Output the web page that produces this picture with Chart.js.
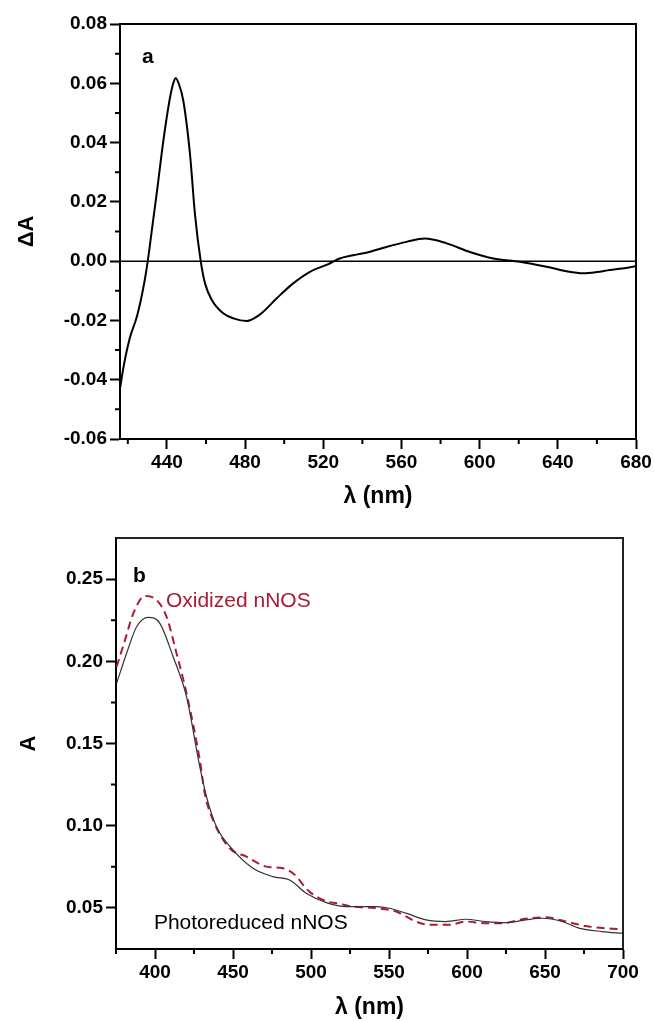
<!DOCTYPE html>
<html>
<head>
<meta charset="utf-8">
<script src="https://cdn.jsdelivr.net/npm/chart.js@4.4.1/dist/chart.umd.min.js"></script>
<style>
html, body { margin:0; padding:0; background:#fff; }
#boxA { position:absolute; left:0; top:0; width:654px; height:510px; }
#boxB { position:absolute; left:0; top:510px; width:654px; height:511px; }
</style>
</head>
<body>
<div id="boxA"><canvas id="chartA"></canvas></div>
<div id="boxB"><canvas id="chartB"></canvas></div>
<script>
// pannello a: spettro differenza (ΔA)
const lambdaA = [416, 418, 421, 424.5, 426.7, 428.5, 430.2, 433, 435, 438.2, 441.6, 443.5, 444.5, 446, 448.4, 451.8, 454.4, 457.3, 459.5, 462.9, 468.8, 474, 480.8, 487.6, 496.2, 504.6, 513.2, 522.6, 528, 535.3, 544, 552.4, 562.6, 572, 583.1, 595, 607, 620.6, 634.3, 645, 653, 660, 666.6, 673, 680];
const deltaA = [-0.043, -0.035, -0.026, -0.019, -0.013, -0.007, 0.000, 0.014, 0.024, 0.0407, 0.0552, 0.0605, 0.0617, 0.0600, 0.0541, 0.0362, 0.0155, 0.000, -0.0075, -0.013, -0.0176, -0.0193, -0.0202, -0.0180, -0.0125, -0.0075, -0.0036, -0.001, 0.0008, 0.002, 0.0032, 0.0048, 0.0065, 0.0076, 0.006, 0.0031, 0.0009, -0.0002, -0.0019, -0.0035, -0.0041, -0.0037, -0.003, -0.0025, -0.0017];

// pannello b: assorbanza, fotoridotto e ossidato
const lambdaRid = [375.4, 381.8, 388.2, 395.7, 403.1, 411.6, 420.2, 428.7, 433, 439.4, 450, 462.8, 475.6, 486.3, 496.9, 510.7, 522.5, 541.7, 550.2, 560.9, 573.7, 586.5, 599.2, 612, 624.8, 637.6, 648.2, 661, 671.7, 686.6, 700];
const absRid = [0.1866, 0.2049, 0.221, 0.2267, 0.2231, 0.2028, 0.1785, 0.1359, 0.1177, 0.0994, 0.0853, 0.0741, 0.069, 0.067, 0.0589, 0.0529, 0.0508, 0.0508, 0.0498, 0.0468, 0.0427, 0.0417, 0.0431, 0.0417, 0.0411, 0.0427, 0.0437, 0.0417, 0.0377, 0.0356, 0.0345];
const lambdaOx = [375.4, 380.8, 386.1, 393.5, 401, 407.4, 413.8, 420.2, 428.7, 431.9, 437.2, 447.9, 458.6, 471.4, 482, 488.4, 499, 510.7, 516.1, 526.7, 541.7, 554.5, 567.3, 575.8, 588.6, 599.2, 612, 622.6, 635.4, 650.4, 663.2, 676, 688.8, 700];
const absOx = [0.1967, 0.213, 0.2292, 0.2397, 0.2373, 0.2271, 0.2049, 0.1805, 0.14, 0.1197, 0.1035, 0.0863, 0.0812, 0.0751, 0.0741, 0.0711, 0.0599, 0.0538, 0.0529, 0.0508, 0.0498, 0.0478, 0.0417, 0.0397, 0.0397, 0.0417, 0.0406, 0.0406, 0.0431, 0.0443, 0.0417, 0.039, 0.0376, 0.037];

// tacche
const xTicksA = [440, 480, 520, 560, 600, 640, 680];
const xMinorA = [420, 460, 500, 540, 580, 620, 660];
const yTicksA = [-0.06, -0.04, -0.02, 0.00, 0.02, 0.04, 0.06, 0.08];
const yMinorA = [-0.05, -0.03, -0.01, 0.01, 0.03, 0.05, 0.07];
const xTicksB = [400, 450, 500, 550, 600, 650, 700];
const xMinorB = [375, 425, 475, 525, 575, 625, 675];
const yTicksB = [0.05, 0.10, 0.15, 0.20, 0.25];
const yMinorB = [0.075, 0.125, 0.175, 0.225];

const ROSSO = "rgb(172, 26, 52)";
const FONT = "'Liberation Sans', Arial, sans-serif";

const punti = (xs, ys) => xs.map((x, i) => ({x: x, y: ys[i]}));

// cornice, tacche minori, linea dello zero e scritte
const extra = {
  id: 'extra',
  afterDraw(chart, args, opt) {
    const ctx = chart.ctx;
    const a = chart.chartArea;
    const sx = chart.scales.x, sy = chart.scales.y;
    ctx.save();
    ctx.strokeStyle = opt.frame;
    ctx.lineWidth = 2;
    ctx.beginPath();
    ctx.moveTo(a.left, a.top);
    ctx.lineTo(a.right, a.top);
    ctx.lineTo(a.right, a.bottom);
    ctx.stroke();
    ctx.strokeStyle = '#000';
    ctx.beginPath();
    opt.minorX.forEach(v => {
      const p = sx.getPixelForValue(v);
      ctx.moveTo(p, a.bottom);
      ctx.lineTo(p, a.bottom + 5);
    });
    opt.minorY.forEach(v => {
      const p = sy.getPixelForValue(v);
      ctx.moveTo(a.left, p);
      ctx.lineTo(a.left - 5, p);
    });
    ctx.stroke();
    if (opt.zero) {
      const p = sy.getPixelForValue(0);
      ctx.lineWidth = 1.5;
      ctx.beginPath();
      ctx.moveTo(a.left, p);
      ctx.lineTo(a.right, p);
      ctx.stroke();
    }
    opt.notes.forEach(n => {
      ctx.font = n.font;
      ctx.fillStyle = n.color;
      ctx.textAlign = 'left';
      ctx.textBaseline = 'alphabetic';
      ctx.fillText(n.text, sx.getPixelForValue(n.x), sy.getPixelForValue(n.y));
    });
    ctx.restore();
  }
};

function scaleX(min, max, ticks, w) {
  return {
    type: 'linear', position: 'bottom', min: min, max: max,
    afterBuildTicks: s => { s.ticks = ticks.map(v => ({value: v})); },
    afterFit: s => { s.height = w; },
    grid: { drawOnChartArea: false, tickLength: 10, tickWidth: 2, tickColor: '#000' },
    border: { display: true, color: '#000', width: 2 },
    ticks: { color: '#000', font: { family: FONT, size: 19, weight: 'bold' }, padding: 2, maxRotation: 0, callback: v => String(v) },
    title: { display: true, text: 'λ (nm)', color: '#000', font: { family: FONT, size: 23, weight: 'bold' }, padding: { bottom: 0 } }
  };
}

function scaleY(min, max, ticks, w, titolo, pad) {
  return {
    type: 'linear', min: min, max: max,
    afterBuildTicks: s => { s.ticks = ticks.map(v => ({value: v})); },
    afterFit: s => { s.width = w; },
    grid: { drawOnChartArea: false, tickLength: 10, tickWidth: 2, tickColor: '#000' },
    border: { display: true, color: '#000', width: 2 },
    ticks: { color: '#000', font: { family: FONT, size: 19, weight: 'bold' }, padding: 3, callback: v => v.toFixed(2) },
    title: { display: true, text: titolo, color: '#000', font: { family: FONT, size: 22, weight: 'bold' }, padding: { top: pad } }
  };
}

new Chart(document.getElementById('chartA'), {
  type: 'line',
  data: {
    datasets: [{
      label: 'ΔA',
      data: punti(lambdaA, deltaA),
      borderColor: '#000',
      borderWidth: 2,
      pointRadius: 0,
      cubicInterpolationMode: 'monotone'
    }]
  },
  options: {
    responsive: true, maintainAspectRatio: false, animation: false,
    layout: { padding: { top: 24, right: 18, left: 0, bottom: 0 } },
    plugins: {
      legend: { display: false }, tooltip: { enabled: false },
      extra: {
        frame: '#000', minorX: xMinorA, minorY: yMinorA, zero: true,
        notes: [{ text: 'a', x: 427.3, y: 0.0669, font: 'bold 21px ' + FONT, color: '#000' }]
      }
    },
    scales: {
      x: scaleX(416, 680, xTicksA, 71),
      y: scaleY(-0.06, 0.08, yTicksA, 120, 'ΔA', 14)
    }
  },
  plugins: [extra]
});

new Chart(document.getElementById('chartB'), {
  type: 'line',
  data: {
    datasets: [{
      label: 'Photoreduced nNOS',
      data: punti(lambdaRid, absRid),
      borderColor: '#333',
      borderWidth: 1.2,
      pointRadius: 0,
      cubicInterpolationMode: 'monotone'
    }, {
      label: 'Oxidized nNOS',
      data: punti(lambdaOx, absOx),
      borderColor: ROSSO,
      borderWidth: 2,
      borderDash: [8, 5],
      pointRadius: 0,
      cubicInterpolationMode: 'monotone'
    }]
  },
  options: {
    responsive: true, maintainAspectRatio: false, animation: false,
    layout: { padding: { top: 28, right: 31, left: 0, bottom: 0 } },
    plugins: {
      legend: { display: false }, tooltip: { enabled: false },
      extra: {
        frame: '#222', minorX: xMinorB, minorY: yMinorB, zero: false,
        notes: [
          { text: 'b', x: 385.9, y: 0.2482, font: 'bold 21px ' + FONT, color: '#000' },
          { text: 'Oxidized nNOS', x: 407, y: 0.233, font: '21px ' + FONT, color: ROSSO },
          { text: 'Photoreduced nNOS', x: 399.3, y: 0.0372, font: '21px ' + FONT, color: '#000' }
        ]
      }
    },
    scales: {
      x: scaleX(375, 700, xTicksB, 72),
      y: scaleY(0.025, 0.275, yTicksB, 116, 'A', 16)
    }
  },
  plugins: [extra]
});
</script>
</body>
</html>
